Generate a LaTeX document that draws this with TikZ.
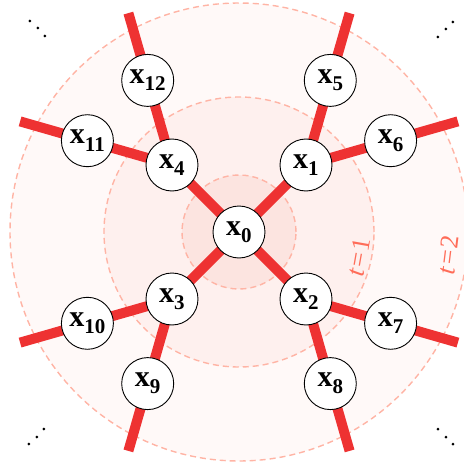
\documentclass[tikz,border=0pt]{standalone}
\usepackage{fontspec}
\setmainfont{Liberation Serif}
\usetikzlibrary{backgrounds}
\definecolor{edgered}{RGB}{238,50,50}
\definecolor{ringA}{RGB}{252,228,224}
\definecolor{ringB}{RGB}{254,240,238}
\definecolor{ringC}{RGB}{255,249,248}
\definecolor{dashcol}{RGB}{255,180,165}
\definecolor{labcol}{RGB}{255,108,88}
\newcommand\nsub[1]{\raisebox{-0.24em}{\fontsize{21}{21}\selectfont #1}}
\tikzset{
  vnode/.style={circle,draw=black,line width=0.9pt,fill=white,minimum size=52pt,inner sep=0pt,
    font=\fontsize{30}{32}\selectfont\bfseries},
  edge/.style={draw=edgered,line width=10pt},
  ring/.style={draw=dashcol,line width=1.4pt,dash pattern=on 6pt off 4pt},
  tlab/.style={text=labcol,font=\fontsize{26}{28}\selectfont,inner sep=0pt},
  cdot/.style={fill=black,draw=none}
}
\begin{document}
\begin{tikzpicture}[x=1pt,y=1pt]
\useasboundingbox (-239,-232) rectangle (225,232);
% nodes
\node[vnode] (x0) at (0,0) {x\nsub{0}};
\node[vnode] (x1) at (67,67) {x\nsub{1}};
\node[vnode] (x4) at (-67,67) {x\nsub{4}};
\node[vnode] (x3) at (-67,-67) {x\nsub{3}};
\node[vnode] (x2) at (67,-67) {x\nsub{2}};
\node[vnode] (x5) at (91.3,151.6) {x\nsub{5}};
\node[vnode] (x6) at (151.6,91.3) {x\nsub{6}};
\node[vnode] (x12) at (-91.3,151.6) {x\nsub{12}};
\node[vnode] (x11) at (-151.6,91.3) {x\nsub{11}};
\node[vnode] (x10) at (-151.6,-91.3) {x\nsub{10}};
\node[vnode] (x9) at (-91.3,-151.6) {x\nsub{9}};
\node[vnode] (x8) at (91.3,-151.6) {x\nsub{8}};
\node[vnode] (x7) at (151.6,-91.3) {x\nsub{7}};
\coordinate (e5) at (110.6,218.9);
\coordinate (e6) at (218.9,110.6);
\coordinate (e12) at (-110.6,218.9);
\coordinate (e11) at (-218.9,110.6);
\coordinate (e10) at (-218.9,-110.6);
\coordinate (e9) at (-110.6,-218.9);
\coordinate (e8) at (110.6,-218.9);
\coordinate (e7) at (218.9,-110.6);
\begin{scope}[on background layer]
  \fill[ringC] (0,0) circle (229);
  \fill[ringB] (0,0) circle (135);
  \fill[ringA] (0,0) circle (57);
  \draw[ring] (0,0) circle (229);
  \draw[ring] (0,0) circle (135);
  \draw[ring] (0,0) circle (57);
  \foreach \a/\b in {x0/x1,x0/x2,x0/x3,x0/x4,x1/x5,x1/x6,x4/x12,x4/x11,x3/x10,x3/x9,x2/x8,x2/x7,
                     x5/e5,x6/e6,x12/e12,x11/e11,x10/e10,x9/e9,x8/e8,x7/e7}
    \draw[edge] (\a.center) -- (\b.center);
\end{scope}
\node[tlab,rotate=80] (t1) at (120,-25) {\textit{t}\kern2pt=\kern1.5pt1};
\node[tlab,rotate=83] (t2) at (209,-23) {\textit{t}\kern2pt=\kern1.5pt2};
% corner dots
\foreach \p in {(-209,211),(-201,204),(-194,196),
                (214,210),(207,203),(199,195),
                (-195,-197),(-202,-205),(-210,-212),
                (199,-197),(207,-205),(214,-212)}
  \fill[cdot] \p circle (1.5);
\end{tikzpicture}
\end{document}
